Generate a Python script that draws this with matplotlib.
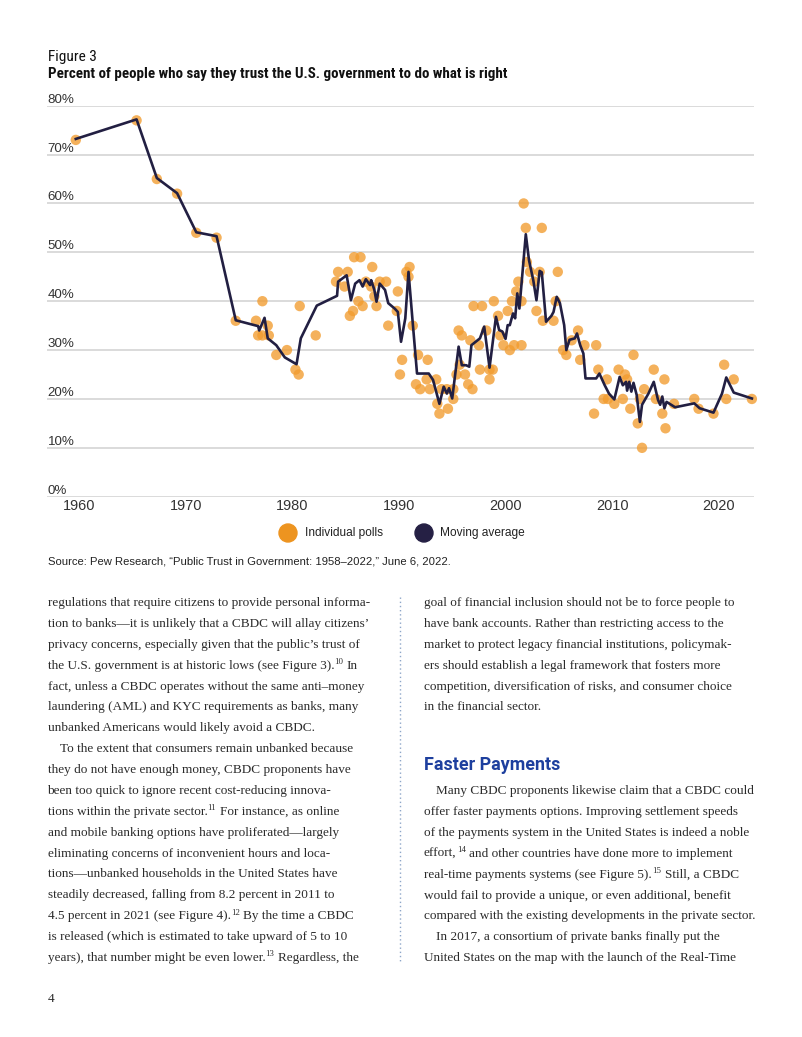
import re
import matplotlib
matplotlib.use('Agg')
import matplotlib.pyplot as plt
from matplotlib import font_manager
from matplotlib.transforms import IdentityTransform
from matplotlib.patches import Circle
from matplotlib.lines import Line2D

# ---------------- data ----------------
poll_years = [1959.7, 1965.4, 1967.3, 1969.2, 1971.0, 1972.9, 1974.7, 1976.6, 1976.8, 1977.2,
              1977.2, 1977.7, 1977.8, 1978.5, 1979.5, 1980.3, 1980.6, 1980.7, 1982.2, 1984.1,
              1984.3, 1984.9, 1985.2, 1985.4, 1985.7, 1985.8, 1986.4, 1986.2, 1986.6, 1986.9,
              1987.5, 1987.4, 1987.7, 1987.9, 1988.2, 1988.8, 1989.0, 1989.8, 1989.9, 1990.1,
              1990.3, 1990.7, 1990.9, 1991.0, 1991.3, 1991.6, 1991.8, 1992.0, 1992.6, 1992.7,
              1992.9, 1993.5, 1993.6, 1993.8, 1994.0, 1994.5, 1994.6, 1995.1, 1995.1, 1995.4,
              1995.6, 1995.7, 1995.9, 1996.2, 1996.5, 1996.7, 1996.9, 1997.0, 1997.5, 1997.6,
              1997.8, 1998.2, 1998.5, 1998.5, 1998.8, 1998.9, 1999.3, 1999.5, 1999.8, 2000.2,
              2000.4, 2000.6, 2000.8, 2001.0, 2001.2, 2001.5, 2001.5, 2001.7, 2001.9, 2002.0,
              2002.3, 2002.7, 2002.9, 2003.2, 2003.4, 2003.5, 2004.5, 2004.7, 2004.9, 2005.4,
              2005.7, 2006.2, 2006.8, 2007.0, 2007.4, 2008.3, 2008.5, 2008.7, 2009.2, 2009.5,
              2009.6, 2010.2, 2010.6, 2011.0, 2011.2, 2011.4, 2011.7, 2012.0, 2012.4, 2012.6,
              2012.8, 2013.0, 2013.9, 2014.1, 2014.7, 2014.9, 2015.0, 2015.8, 2017.7, 2018.1,
              2019.5, 2020.5, 2020.7, 2021.4, 2023.1]
poll_values = [73, 77, 65, 62, 54, 53, 36, 36, 33, 33,
               40, 35, 33, 29, 30, 26, 25, 39, 33, 44,
               46, 43, 46, 37, 38, 49, 49, 40, 39, 44,
               47, 43, 41, 39, 44, 44, 35, 38, 42, 25,
               28, 46, 45, 47, 35, 23, 29, 22, 24, 28,
               22, 24, 19, 17, 22, 22, 18, 22, 20, 25,
               34, 27, 33, 25, 23, 32, 22, 39, 31, 26,
               39, 34, 26, 24, 26, 40, 37, 33, 31, 38,
               30, 40, 31, 42, 44, 40, 31, 60, 55, 48,
               46, 44, 38, 46, 55, 36, 36, 40, 46, 30,
               29, 32, 34, 28, 31, 17, 31, 26, 20, 24,
               20, 19, 26, 20, 25, 24, 18, 29, 15, 20,
               10, 22, 26, 20, 17, 24, 14, 19, 20, 18,
               17, 27, 20, 24, 20]

ma_years = [1959.7, 1965.4, 1967.3, 1969.2, 1971.0, 1972.9, 1974.7, 1976.8, 1976.9, 1977.4,
            1977.7, 1978.5, 1979.3, 1980.4, 1980.8, 1982.3, 1984.2, 1984.3, 1985.1, 1985.5,
            1985.9, 1986.3, 1986.6, 1986.9, 1987.3, 1987.4, 1987.7, 1987.9, 1988.2, 1988.7,
            1989.0, 1989.6, 1989.9, 1990.2, 1990.6, 1990.9, 1991.3, 1991.7, 1992.8, 1993.2,
            1993.8, 1994.2, 1994.5, 1994.7, 1995.0, 1995.6, 1995.9, 1996.3, 1996.6, 1996.8,
            1997.2, 1997.6, 1998.0, 1998.5, 1999.1, 1999.4, 1999.7, 2000.0, 2000.2, 2000.4,
            2000.7, 2000.9, 2001.1, 2001.3, 2001.9, 2002.2, 2002.6, 2002.9, 2003.2, 2003.4,
            2003.8, 2004.3, 2004.5, 2004.8, 2005.1, 2005.5, 2005.7, 2006.0, 2006.5, 2006.7,
            2007.0, 2007.3, 2007.5, 2008.5, 2008.8, 2009.3, 2009.7, 2010.2, 2010.7, 2011.0,
            2011.3, 2011.4, 2011.6, 2011.8, 2012.0, 2012.3, 2012.6, 2012.8, 2013.4, 2013.9,
            2014.3, 2014.5, 2014.7, 2014.9, 2015.1, 2015.9, 2017.7, 2018.2, 2019.5, 2020.3,
            2020.7, 2021.4, 2023.1]
ma_values = [73.2, 77.2, 65.2, 62.1, 54.1, 53.3, 36.1, 34.9, 34.0, 36.6,
             32.4, 31.0, 28.5, 27.1, 32.4, 39.1, 41.1, 44.0, 45.3, 40.2,
             43.6, 44.3, 43.0, 44.5, 43.3, 44.3, 42.3, 39.9, 43.6, 42.3,
             39.6, 38.5, 37.8, 31.7, 36.5, 46.0, 35.5, 25.2, 25.2, 23.9,
             19.0, 22.5, 21.1, 22.2, 20.1, 30.7, 26.9, 26.9, 26.6, 31.0,
             31.7, 32.4, 34.8, 26.4, 36.8, 34.1, 33.8, 32.3, 35.1, 35.1,
             37.5, 36.5, 41.6, 38.5, 53.7, 48.4, 44.3, 40.2, 46.2, 45.9,
             35.8, 37.0, 37.8, 40.9, 39.6, 35.1, 30.0, 32.1, 32.4, 33.4,
             31.0, 29.3, 24.2, 24.2, 25.2, 22.8, 21.1, 19.9, 24.5, 22.8,
             23.5, 21.7, 23.5, 21.5, 23.3, 20.8, 15.3, 18.8, 21.1, 23.5,
             19.8, 18.8, 20.5, 18.1, 19.4, 18.3, 19.1, 18.1, 17.2, 21.1,
             24.4, 21.3, 20.1]

x_ticks = [1960, 1970, 1980, 1990, 2000, 2010, 2020]
y_ticks = [0, 10, 20, 30, 40, 50, 60, 70, 80]
legend_labels = ["Individual polls", "Moving average"]

fig_label = "Figure 3"
title = "Percent of people who say they trust the U.S. government to do what is right"
source = "Source: Pew Research, \u201cPublic Trust in Government: 1958\u20132022,\u201d June 6, 2022."

# "^{n}" marks a footnote superscript
left_col = [
    "regulations that require citizens to provide personal informa-",
    "tion to banks\u2014it is unlikely that a CBDC will allay citizens\u2019",
    "privacy concerns, especially given that the public\u2019s trust of",
    "the U.S. government is at historic lows (see Figure 3).^{10} In",
    "fact, unless a CBDC operates without the same anti\u2013money",
    "laundering (AML) and KYC requirements as banks, many",
    "unbanked Americans would likely avoid a CBDC.",
    "\tTo the extent that consumers remain unbanked because",
    "they do not have enough money, CBDC proponents have",
    "been too quick to ignore recent cost-reducing innova-",
    "tions within the private sector.^{11} For instance, as online",
    "and mobile banking options have proliferated\u2014largely",
    "eliminating concerns of inconvenient hours and loca-",
    "tions\u2014unbanked households in the United States have",
    "steadily decreased, falling from 8.2 percent in 2011 to",
    "4.5 percent in 2021 (see Figure 4).^{12} By the time a CBDC",
    "is released (which is estimated to take upward of 5 to 10",
    "years), that number might be even lower.^{13} Regardless, the",
]
right_col_a = [
    "goal of financial inclusion should not be to force people to",
    "have bank accounts. Rather than restricting access to the",
    "market to protect legacy financial institutions, policymak-",
    "ers should establish a legal framework that fosters more",
    "competition, diversification of risks, and consumer choice",
    "in the financial sector.",
]
heading = "Faster Payments"
right_col_b = [
    "\tMany CBDC proponents likewise claim that a CBDC could",
    "offer faster payments options. Improving settlement speeds",
    "of the payments system in the United States is indeed a noble",
    "effort,^{14} and other countries have done more to implement",
    "real-time payments systems (see Figure 5).^{15} Still, a CBDC",
    "would fail to provide a unique, or even additional, benefit",
    "compared with the existing developments in the private sector.",
    "\tIn 2017, a consortium of private banks finally put the",
    "United States on the map with the launch of the Real-Time",
]
page_no = "4"

# ---------------- fonts ----------------
def has_font(name):
    try:
        font_manager.findfont(font_manager.FontProperties(family=name),
                              fallback_to_default=False)
        return True
    except Exception:
        return False

SANS_N = next(f for f in ['Liberation Sans Narrow', 'Roboto Condensed',
                          'Liberation Sans', 'DejaVu Sans'] if has_font(f))
SANS = next(f for f in ['Liberation Sans', 'DejaVu Sans'] if has_font(f))
SERIF = next(f for f in ['Liberation Serif', 'DejaVu Serif'] if has_font(f))
HEAD = next(f for f in ['Roboto', 'Inter', 'Liberation Sans', 'DejaVu Sans'] if has_font(f))

# ---------------- figure ----------------
W, H = 802, 1037
fig = plt.figure(figsize=(W / 100, H / 100), dpi=100)
fig.patch.set_facecolor('white')
renderer = fig.canvas.get_renderer()
T = IdentityTransform()


def ptext(x, y, s, size, family, target_w=None, **kw):
    t = fig.text(x, H - y, s, transform=T, fontsize=size, family=family, **kw)
    if target_w:
        w = t.get_window_extent(renderer).width
        t.set_fontsize(size * target_w / w)
    return t


def text_w(s, family, size, weight='normal'):
    t = fig.text(0, 0, s, fontsize=size, family=family, fontweight=weight)
    w = t.get_window_extent(renderer).width
    t.remove()
    return w


def fit_size(s, family, target_w, weight='normal', base=10):
    return base * target_w / text_w(s, family, base, weight)

TXT = '#2b2b2b'

# Chart heading
ptext(48, 61, fig_label, 10, SANS_N, target_w=49, color='#111', va='baseline')
ptext(48, 78, title, 10, SANS_N, target_w=458, color='#111', va='baseline',
      fontweight='bold')

# ---------------- chart ----------------
ax_l, ax_r, ax_t, ax_b = 47, 754, 105.7, 496.7
ax = fig.add_axes([ax_l / W, 1 - ax_b / H, (ax_r - ax_l) / W, (ax_b - ax_t) / H])
ax.set_xlim(1957.0, 2023.3)
ax.set_ylim(0, 80)
for sp in ax.spines.values():
    sp.set_visible(False)
ax.set_yticks(y_ticks)
ax.yaxis.grid(True, color='#dadada', lw=1.4, zorder=0)
ax.set_axisbelow(True)
ax.tick_params(left=False, labelleft=False, bottom=False, length=0)

xsz = fit_size("1960", SANS, 32)
ysz = xsz * 0.93
for v in y_ticks:
    ax.text(0.001, v, f"{v}%", transform=ax.get_yaxis_transform(), ha='left',
            va='bottom', fontsize=ysz, family=SANS, color='#333')

ax.set_xticks(x_ticks)
ax.set_xticklabels([str(v) for v in x_ticks], fontsize=xsz, family=SANS, color='#333')
ax.tick_params(axis='x', pad=2)

ORANGE = '#F29C2E'
NAVY = '#221f42'
ax.scatter(poll_years, poll_values, s=56, color=ORANGE, alpha=0.78,
           edgecolors='none', clip_on=False, zorder=2)
ax.plot(ma_years, ma_values, color=NAVY, lw=1.9, zorder=3, clip_on=False)

# Legend
lsz = fit_size(legend_labels[0], SANS, 78)
for cx, col, tx, lab in [(288, '#ED9420', 305, legend_labels[0]),
                         (424, '#252044', 440, legend_labels[1])]:
    fig.add_artist(Circle((cx, H - 533), 9, transform=T, color=col, zorder=5))
    ptext(tx, 533, lab, lsz, SANS, color='#222', va='center')

# Source
ptext(48, 565, source, 10, SANS, target_w=405, color='#222', va='baseline')

# ---------------- body text ----------------
bsz = fit_size(left_col[0], SERIF, 324.4) * 0.99
sup_sz = bsz * 0.66
SPACE = text_w("a a", SERIF, bsz) - text_w("aa", SERIF, bsz)
SUP_RISE = bsz * 100 / 72 * 0.34
INDENT = 12.5
LS = 20.88


def body_line(x, y, s):
    if s.startswith('\t'):
        x += INDENT
        s = s[1:]
    parts = re.split(r'\^\{(\d+)\}', s)
    for k, part in enumerate(parts):
        if k % 2 == 1:  # superscript
            t = fig.text(x + 0.2, H - y + SUP_RISE, part, transform=T, fontsize=sup_sz,
                         family=SERIF, color=TXT, va='baseline', ha='left')
            x += t.get_window_extent(renderer).width + 0.4
        else:
            if not part:
                continue
            if part.startswith(' '):
                x += SPACE
                part = part.lstrip(' ')
            t = fig.text(x, H - y, part, transform=T, fontsize=bsz, family=SERIF,
                         color=TXT, va='baseline', ha='left')
            x += t.get_window_extent(renderer).width

for i, s in enumerate(left_col):
    body_line(47.5, 606 + i * LS, s)

for i, s in enumerate(right_col_a):
    body_line(424, 606 + i * LS, s)

hsz = fit_size(heading, HEAD, 136, weight='bold')
fig.text(424, H - 770, heading, transform=T, fontsize=hsz, family=HEAD,
         fontweight='bold', color='#1d3f9e', va='baseline')

for i, s in enumerate(right_col_b):
    body_line(424, 794 + i * 20.9, s)

fig.add_artist(Line2D([400, 400], [H - 597, H - 963], transform=T,
                      color='#8ea6c9', lw=1.0, linestyle=(0, (1, 2))))

fig.text(48, H - 1002, page_no, transform=T, fontsize=bsz, family=SERIF,
         color=TXT, va='baseline')

fig.savefig('out.png', dpi=100, facecolor='white')
